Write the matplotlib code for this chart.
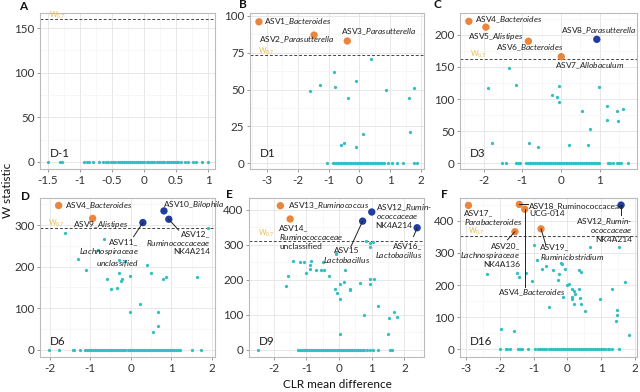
import matplotlib
matplotlib.use("Agg")
import matplotlib.pyplot as plt

plt.rcParams['font.family'] = ['Lato', 'DejaVu Sans']
plt.rcParams['mathtext.fontset'] = 'custom'
plt.rcParams['mathtext.rm'] = 'Lato'
plt.rcParams['mathtext.it'] = 'Lato:italic'
plt.rcParams['mathtext.bf'] = 'Lato:bold'
plt.rcParams['axes.unicode_minus'] = False

ORANGE = '#EA863C'
BLUE = '#1F3E9E'
CYAN = '#33BFC1'
GOLD = '#EBBB4E'
TXT = '#1E1E1E'

# ---------------- data ----------------
# Panel A (D-1)
A_w = 160
A_zero_x = [-1.50, -1.31, -1.28, -0.93, -0.89, -0.86, -0.80, -0.70, -0.64, -0.60, -0.56, -0.51,
            -0.48, -0.45, -0.41, -0.38, -0.35, -0.31, -0.28, -0.25, -0.22, -0.19, -0.15, -0.12,
            -0.09, -0.06, -0.03, 0.00, 0.04, 0.07, 0.10, 0.13, 0.16, 0.20, 0.23, 0.26, 0.29,
            0.32, 0.36, 0.39, 0.42, 0.45, 0.48, 0.51, 0.53, 0.58, 0.64, 0.69, 0.77, 0.82, 0.90, 1.00]
A_pts_x = []
A_pts_y = []
A_sig_x = []
A_sig_y = []
A_sig_c = []

# Panel B (D1)
B_w = 73.5
B_zero_x = [-1.04, -0.86, -0.81, -0.75, -0.70, -0.64, -0.59, -0.53, -0.48, -0.42, -0.37, -0.31,
            -0.26, -0.20, -0.15, -0.09, -0.04, 0.02, 0.07, 0.13, 0.18, 0.24, 0.29, 0.35, 0.40,
            0.46, 0.51, 0.57, 0.62, 0.68, 0.73, 0.80, 0.92, 1.05, 1.23, 1.43, 1.77, 1.86]
B_pts_x = [-1.60, -1.28, -0.82, -0.80, -0.38, -0.12, 0.38, 0.85, 1.62, 1.76, 1.65, 0.11, -0.61, -0.51, -0.12]
B_pts_y = [49, 53, 62, 52, 44, 56, 71, 50, 44, 51, 21, 20, 12, 14, 11]
B_sig_x = [-3.26, -1.47, -0.39]
B_sig_y = [96, 87, 83]
B_sig_c = ['o', 'o', 'o']

# Panel C (D3)
C_w = 162
C_zero_x = [-1.53, -1.41, -1.15, -1.10, -1.06, -0.90, -0.85, -0.81, -0.76, -0.71, -0.67, -0.62,
            -0.57, -0.53, -0.48, -0.43, -0.39, -0.34, -0.29, -0.25, -0.20, -0.16, -0.11, -0.06,
            -0.02, 0.03, 0.08, 0.12, 0.17, 0.22, 0.26, 0.31, 0.36, 0.40, 0.45, 0.50, 0.54, 0.59,
            0.64, 0.68, 0.73, 0.78, 0.82, 0.87, 0.92, 0.96, 0.98, 1.22, 1.28, 1.35, 1.44, 1.51,
            1.55, 1.74]
C_pts_x = [-1.33, -1.89, -1.16, -0.06, -0.22, -0.09, -0.06, 0.54, 0.99, 1.19, 1.19, 1.46, 1.62,
           1.47, 0.76, -1.78, -0.83, -0.59, 0.21, 0.69]
C_pts_y = [148, 117, 122, 120, 107, 103, 96, 82, 118, 89, 67, 82, 85, 65, 53, 32, 32, 25, 28, 28]
C_sig_x = [-2.38, -1.94, -0.84, 0.01, 0.93]
C_sig_y = [221, 212, 190, 166, 193]
C_sig_c = ['o', 'o', 'o', 'o', 'b']

# Panel D (D6)
D_w = 294
D_zero_x = [-2.03, -1.76, -1.43, -1.40, -1.25, -1.13, -1.08, -1.03, -0.98, -0.93, -0.88, -0.83,
            -0.78, -0.73, -0.68, -0.63, -0.58, -0.53, -0.48, -0.43, -0.38, -0.33, -0.28, -0.23,
            -0.18, -0.13, -0.08, -0.03, 0.02, 0.07, 0.12, 0.17, 0.22, 0.27, 0.32, 0.37, 0.42,
            0.47, 0.52, 0.57, 0.62, 0.67, 0.72, 0.77, 0.82, 0.87, 0.92, 0.97, 1.02, 1.07, 1.12,
            1.17, 1.22, 1.51, 1.73]
D_pts_x = [-1.62, -0.67, -0.82, -1.31, -1.11, -0.58, -0.48, -0.33, -0.28, -0.14, -0.30, -0.21,
           -0.25, -0.03, 0.39, 0.51, 0.80, 0.87, 1.64, 0.23, -0.02, 0.67, 0.67, 0.56, 1.90]
D_pts_y = [280, 266, 239, 219, 192, 170, 147, 149, 216, 214, 186, 171, 166, 178, 205, 184, 170,
           176, 176, 111, 90, 90, 57, 42, 293]
D_sig_x = [-1.78, -0.94, 0.82, 0.30, 0.94]
D_sig_y = [347, 316, 334, 306, 314]
D_sig_c = ['o', 'o', 'b', 'b', 'b']

# Panel E (D9)
E_w = 312
E_zero_x = [-2.47, -1.27, -1.21, -1.15, -1.09, -1.03, -0.97, -0.91, -0.85, -0.79, -0.73, -0.67,
            -0.61, -0.55, -0.49, -0.43, -0.37, -0.31, -0.25, -0.19, -0.13, -0.07, -0.01, 0.05,
            0.11, 0.17, 0.23, 0.29, 0.35, 0.41, 0.47, 0.53, 0.59, 0.65, 0.71, 0.77, 0.85, 0.95,
            1.05, 1.20, 1.56, 1.61]
E_pts_x = [-1.64, -1.56, -1.41, -1.19, -1.08, -1.02, -0.89, -0.87, -0.89, -0.70, -0.54, -0.48,
           -0.46, -0.32, -0.11, -0.09, -0.13, -0.06, 0.03, 0.03, 0.16, 0.19, 0.32, 0.33, 0.64,
           0.76, 0.83, 0.94, 0.95, 1.03, 0.95, 0.96, 1.08, 1.20, 1.52, 1.51, 1.67, 1.78, 0.04]
E_pts_y = [182, 210, 253, 251, 250, 219, 230, 255, 242, 228, 227, 250, 229, 211, 277, 273, 175,
           164, 146, 188, 195, 229, 173, 171, 190, 99, 310, 305, 295, 308, 204, 189, 202, 125,
           91, 46, 108, 93, 45]
E_sig_x = [-1.80, -1.50, 1.00, 0.72, 2.39]
E_sig_y = [412, 374, 394, 368, 349]
E_sig_c = ['o', 'o', 'b', 'b', 'b']

# Panel F (D16)
F_w = 354
F_zero_x = [-1.99, -1.81, -1.77, -1.70, -1.45, -1.40, -1.35, -1.16, -0.96, -0.86, -0.80, -0.74,
            -0.68, -0.62, -0.56, -0.50, -0.44, -0.38, -0.32, -0.26, -0.20, -0.14, -0.08, -0.02,
            0.04, 0.10, 0.16, 0.22, 0.28, 0.34, 0.40, 0.46, 0.52, 0.58, 0.64, 0.70, 0.76, 0.82,
            0.88, 0.94, 1.00, 1.06, 1.12, 1.18, 1.23, 1.32, 1.52]
F_pts_x = [-2.38, -1.96, -1.58, -1.48, -1.42, -1.21, -1.05, -1.00, -0.91, -0.76, -0.64, -0.56,
           -0.44, -0.27, -0.25, -0.20, -0.16, -0.12, -0.07, 0.00, 0.04, 0.13, 0.19, 0.13, 0.12,
           0.23, 0.33, 0.35, 0.41, 0.36, 0.18, 0.40, 0.53, 0.66, 0.96, 1.32, 1.45, 1.47, 1.42,
           1.51, 1.70, 1.80]
F_pts_y = [235, 62, 56, 239, 226, 236, 214, 326, 277, 250, 260, 132, 247, 216, 235, 268, 266,
           164, 250, 200, 202, 189, 181, 164, 157, 172, 189, 246, 241, 160, 140, 141, 120, 320,
           156, 187, 123, 108, 88, 320, 211, 44]
F_sig_x = [-2.92, -1.42, -1.26, -1.55, -0.78, 1.58]
F_sig_y = [448, 451, 436, 366, 375, 449]
F_sig_c = ['o', 'o', 'o', 'o', 'o', 'b']

# ticks
A_xt = [-1.5, -1, -0.5, 0, 0.5, 1]
A_yt = [0, 50, 100, 150]
B_xt = [-3, -2, -1, 0, 1, 2]; B_yt = [0, 25, 50, 75, 100]
C_xt = [-2, -1, 0, 1]; C_yt = [0, 50, 100, 150, 200]
D_xt = [-2, -1, 0, 1, 2]; D_yt = [0, 100, 200, 300]
E_xt = [-2, -1, 0, 1, 2]; E_yt = [0, 100, 200, 300, 400]
F_xt = [-3, -2, -1, 0, 1, 2]; F_yt = [0, 100, 200, 300, 400]

# ---------------- figure ----------------
W, H = 640, 392
fig = plt.figure(figsize=(6.4, 3.92), dpi=100)
LFS = 6.0


def add_ax(l, t, r, b):
    return fig.add_axes([l / W, 1 - b / H, (r - l) / W, (b - t) / H])


def fmt(v):
    return ('%g' % v)


def style(ax, xlim, ylim, xt, yt):
    ax.set_xticks(xt)
    ax.set_xticklabels([fmt(v) for v in xt])
    ax.set_yticks(yt)
    ax.set_yticklabels([fmt(v) for v in yt])
    dx = (xt[1] - xt[0]) / 2
    dy = (yt[1] - yt[0]) / 2
    mx = [xt[0] - dx] + [v + dx for v in xt]
    my = [yt[0] - dy] + [v + dy for v in yt]
    ax.set_xticks(mx, minor=True)
    ax.set_yticks(my, minor=True)
    ax.set_xlim(xlim)
    ax.set_ylim(ylim)
    ax.grid(which='major', color='#E4E4E4', lw=0.6)
    ax.grid(which='minor', color='#F1F1F1', lw=0.4)
    ax.set_axisbelow(True)
    for s in ax.spines.values():
        s.set_color('#BBBBBB')
        s.set_linewidth(0.8)
    ax.tick_params(which='major', length=2.5, width=0.6, color='#888888',
                   labelsize=8.4, labelcolor='#333333', pad=1.5)
    ax.tick_params(which='minor', length=0)


def draw(ax, zero_x, pts_x, pts_y, sig_x, sig_y, sig_c, w, wpos, tag):
    ax.scatter(zero_x, [0] * len(zero_x), s=5.5, color=CYAN, lw=0, zorder=3)
    ax.scatter(pts_x, pts_y, s=5.5, color=CYAN, lw=0, zorder=3)
    cols = [ORANGE if c == 'o' else BLUE for c in sig_c]
    ax.scatter(sig_x, sig_y, s=28, color=cols, lw=0, zorder=4)
    ax.axhline(w, color='#444444', lw=0.7, ls=(0, (3, 2)), zorder=2)
    ax.text(wpos[0], wpos[1], r'W$_{0.7}$', color=GOLD, fontsize=5.3, ha='left', va='center')
    ax.text(0.055, 0.1, tag, transform=ax.transAxes, fontsize=8.4, color=TXT, ha='left', va='center')


def lab(ax, x, y, s, ha='left', va='center'):
    ax.text(x, y, s, fontsize=LFS, color=TXT, ha=ha, va=va, multialignment=ha,
            linespacing=1.1, zorder=5)


def seg(ax, x0, y0, x1, y1):
    ax.plot([x0, x1], [y0, y1], color='#222222', lw=0.7, zorder=5)


# Panel A
axA = add_ax(40, 13, 215, 169)
style(axA, (-1.625, 1.11), (-8, 167), A_xt, A_yt)
draw(axA, A_zero_x, A_pts_x, A_pts_y, A_sig_x, A_sig_y, A_sig_c, A_w, (-1.48, 164), 'D-1')

# Panel B
axB = add_ax(250, 13, 424, 169)
style(axB, (-3.55, 2.1), (-4, 102), B_xt, B_yt)
draw(axB, B_zero_x, B_pts_x, B_pts_y, B_sig_x, B_sig_y, B_sig_c, B_w, (-3.3, 75.8), 'D1')
lab(axB, -3.09, 96, r'ASV1_$\mathit{Bacteroides}$')
lab(axB, -3.25, 83.8, r'ASV2_$\mathit{Parasutterella}$')
lab(axB, -0.6, 89, r'ASV3_$\mathit{Parasutterella}$')

# Panel C
axC = add_ax(460, 13, 637, 169)
style(axC, (-2.61, 1.97), (-9, 234), C_xt, C_yt)
draw(axC, C_zero_x, C_pts_x, C_pts_y, C_sig_x, C_sig_y, C_sig_c, C_w, (-2.35, 170), 'D3')
lab(axC, -2.22, 224, r'ASV4_$\mathit{Bacteroides}$')
lab(axC, -2.41, 198, r'ASV5_$\mathit{Alistipes}$')
lab(axC, -1.68, 180, r'ASV6_$\mathit{Bacteroides}$')
lab(axC, -0.16, 152, r'ASV7_$\mathit{Allobaculum}$')
lab(axC, 0.0, 206, r'ASV8_$\mathit{Parasutterella}$')

# Panel D
axD = add_ax(40, 198, 215, 357)
style(axD, (-2.24, 2.08), (-17, 365), D_xt, D_yt)
draw(axD, D_zero_x, D_pts_x, D_pts_y, D_sig_x, D_sig_y, D_sig_c, D_w, (-2.05, 305), 'D6')
lab(axD, -1.62, 347, r'ASV4_$\mathit{Bacteroides}$')
lab(axD, -1.43, 301, r'ASV9_$\mathit{Alistipes}$')
lab(axD, 0.79, 350, r'ASV10_$\mathit{Bilophila}$')
lab(axD, 0.19, 231, 'ASV11_\n' + r'$\mathit{Lachnospiraceae}$' + '\n' + r'$\mathit{unclassified}$', ha='right')
seg(axD, 0.30, 306, 0.07, 272)
lab(axD, 1.96, 258, 'ASV12_\n' + r'$\mathit{Ruminococcaceae}$' + '\nNK4A214', ha='right')
seg(axD, 0.94, 314, 1.18, 288)

# Panel E
axE = add_ax(249, 198, 424, 357)
style(axE, (-2.76, 2.6), (-20, 434), E_xt, E_yt)
draw(axE, E_zero_x, E_pts_x, E_pts_y, E_sig_x, E_sig_y, E_sig_c, E_w, (-2.47, 333), 'D9')
lab(axE, -1.58, 412, r'ASV13_$\mathit{Ruminococcus}$')
lab(axE, -1.84, 323, 'ASV14_\n' + r'$\mathit{Ruminococcaceae}$' + '\nunclassified')
lab(axE, 1.12, 384, r'ASV12_$\mathit{Rumin}$-' + '\n' + r'$\mathit{ococcaceae}$' + '\nNK4A214')
lab(axE, 0.24, 269, 'ASV15\n' + r'$\mathit{Lactobacillus}$', ha='center')
seg(axE, 0.72, 368, 0.36, 295)
lab(axE, 2.55, 282, 'ASV16_\n' + r'$\mathit{Lactobacillus}$', ha='right')
seg(axE, 2.39, 349, 2.28, 324)

# Panel F
axF = add_ax(460, 198, 637, 357)
style(axF, (-3.17, 2.05), (-24, 471), F_xt, F_yt)
draw(axF, F_zero_x, F_pts_x, F_pts_y, F_sig_x, F_sig_y, F_sig_c, F_w, (-2.92, 366), 'D16')
lab(axF, -3.05, 408, 'ASV17_\n' + r'$\mathit{Parabacteroides}$')
lab(axF, -1.13, 436, 'ASV18_Ruminococcaceae\nUCG-014')
seg(axF, -1.42, 451, -1.16, 451)
lab(axF, -1.40, 293, 'ASV20_\n' + r'$\mathit{Lachnospiraceae}$' + '\nNK4A136', ha='right')
seg(axF, -1.55, 366, -1.77, 341)
lab(axF, -0.81, 301, 'ASV19_\n' + r'$\mathit{Ruminiclostridium}$')
seg(axF, -0.78, 375, -0.64, 325)
lab(axF, -2.06, 177, r'ASV4_$\mathit{Bacteroides}$')
seg(axF, -1.26, 436, -1.26, 195)
lab(axF, 1.90, 373, r'ASV12_$\mathit{Rumin}$-' + '\n' + r'$\mathit{ococcaceae}$' + '\nNK4A214', ha='right')
seg(axF, 1.58, 449, 1.58, 418)

# panel letters and axis titles
for L, px, py in [('A', 23, 6), ('B', 243, 5), ('C', 437, 5), ('D', 25, 197), ('E', 229, 195), ('F', 444, 195)]:
    fig.text(px / W, 1 - py / H, L, fontsize=8.5, fontweight='bold', ha='center', va='center', color='#111111')
fig.text(8 / W, 1 - 190 / H, 'W statistic', rotation=90, fontsize=8.5, ha='center', va='center', color='#111111')
fig.text(337 / W, 1 - 384 / H, 'CLR mean difference', fontsize=8.5, ha='center', va='center', color='#111111')

fig.savefig('out.png', dpi=100)
